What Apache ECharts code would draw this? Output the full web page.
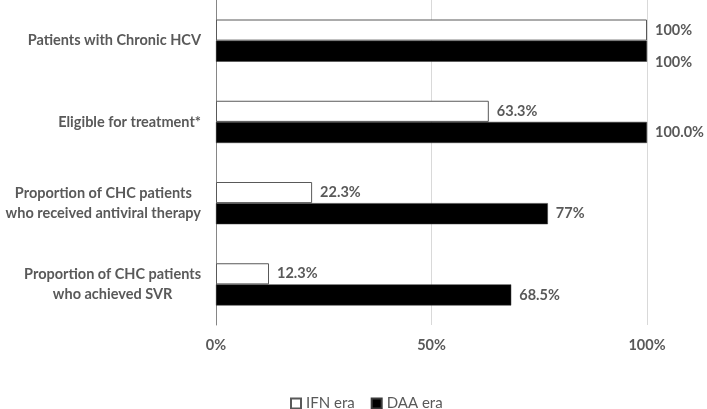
<!DOCTYPE html>
<html>
<head>
<meta charset="utf-8">
<script src="https://cdn.jsdelivr.net/npm/echarts@6/dist/echarts.min.js"></script>
<style>html,body{margin:0;padding:0;background:#fff;}#c{width:707px;height:409px;}</style>
</head>
<body>
<div id="c"></div>
<script>
var categories = [
  'Patients with Chronic HCV',
  'Eligible for treatment*',
  'Proportion of CHC patients\nwho received antiviral therapy',
  'Proportion of CHC patients\nwho achieved SVR'
];
var ifnValues = [100, 63.3, 22.3, 12.3];
var daaValues = [100, 100, 77, 68.5];
var ifnLabels = ['100%', '63.3%', '22.3%', '12.3%'];
var daaLabels = ['100%', '100.0%', '77%', '68.5%'];
var xTicks = [0, 50, 100];

var FONT = 'Lato';
var TXT = '#595959';
var FS = 14.5;

var chart = echarts.init(document.getElementById('c'));
var labelStyle = {fontFamily: FONT, fontWeight: 'bold', fontSize: FS, color: TXT};

chart.setOption({
  animation: false,
  grid: {left: 216, right: 60, top: 0, bottom: 84, containLabel: false},
  legend: {
    left: 285, top: 391,
    itemWidth: 10, itemHeight: 10, itemGap: 16,
    icon: 'rect',
    textStyle: {fontFamily: FONT, fontSize: 15, color: TXT},
    data: ['IFN era', 'DAA era']
  },
  xAxis: {
    type: 'value', min: xTicks[0], max: xTicks[xTicks.length - 1], interval: 50,
    axisLine: {show: false}, axisTick: {show: false},
    splitLine: {lineStyle: {color: '#d9d9d9', width: 1}},
    axisLabel: Object.assign({margin: 13, formatter: '{value}%'}, labelStyle)
  },
  yAxis: {
    type: 'category', inverse: true, data: categories,
    axisLine: {lineStyle: {color: '#868686', width: 1}},
    axisTick: {show: false},
    axisLabel: {
      margin: 15,
      formatter: function (v) {
        return v.split('\n').map(function (s) { return '{c|' + s + '}'; }).join('\n');
      },
      rich: {c: {align: 'center', fontFamily: FONT, fontWeight: 'bold', fontSize: FS, color: TXT, lineHeight: 20}}
    }
  },
  series: [
    {
      name: 'IFN era', type: 'bar', barGap: '0%', barCategoryGap: '48%',
      itemStyle: {color: '#ffffff', borderColor: '#595959', borderWidth: 1},
      label: Object.assign({show: true, position: 'right', distance: 8,
        formatter: function (p) { return ifnLabels[p.dataIndex]; }}, labelStyle),
      data: ifnValues
    },
    {
      name: 'DAA era', type: 'bar', barGap: '0%', barCategoryGap: '48%',
      itemStyle: {color: '#000000', borderColor: '#3a3a3a', borderWidth: 0.5},
      label: Object.assign({show: true, position: 'right', distance: 8,
        formatter: function (p) { return daaLabels[p.dataIndex]; }}, labelStyle),
      data: daaValues.map(function (v, i) {
        return i === 0 ? {value: v, label: {offset: [0, 11]}} : v;
      })
    }
  ]
});
</script>
</body>
</html>
